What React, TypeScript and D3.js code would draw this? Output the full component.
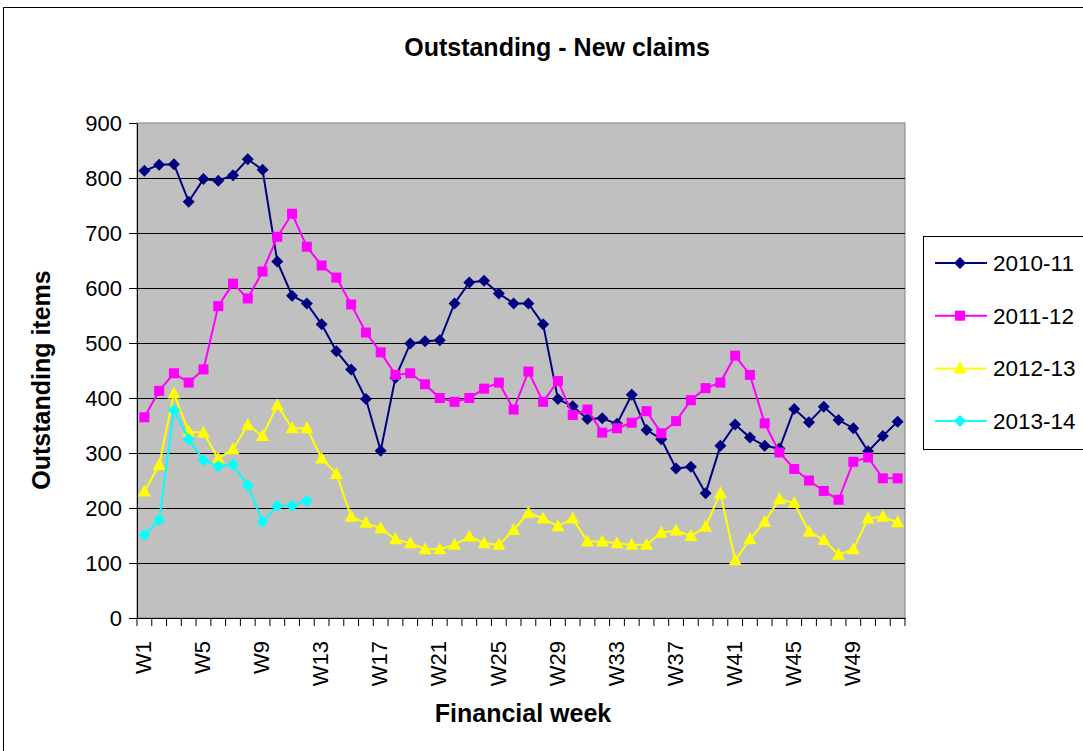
import React, { useEffect, useRef } from 'react';
import * as d3 from 'd3';

const weeks = d3.range(1, 53).map(i => `W${i}`);

const s2010 = [813, 824, 825, 757, 798, 795, 805, 834, 815, 648, 586, 572, 534, 485, 452, 398, 304, 437, 499, 503, 505, 572, 610, 613, 590, 572, 572, 534, 398, 385, 362, 363, 353, 406, 342, 325, 272, 275, 227, 313, 352, 328, 313, 308, 380, 356, 384, 360, 345, 303, 331, 357];
const s2011 = [365, 413, 445, 428, 452, 567, 608, 581, 630, 693, 735, 675, 641, 619, 570, 519, 483, 442, 445, 425, 400, 393, 400, 417, 428, 379, 448, 393, 431, 369, 379, 337, 345, 355, 376, 336, 358, 396, 418, 428, 477, 442, 354, 301, 271, 250, 231, 215, 284, 292, 254, 254];
const s2012 = [230, 278, 408, 339, 337, 290, 307, 351, 331, 387, 345, 345, 290, 262, 184, 173, 163, 143, 136, 125, 125, 133, 148, 136, 133, 160, 191, 181, 167, 181, 139, 139, 136, 133, 133, 155, 159, 149, 166, 227, 105, 143, 175, 216, 209, 157, 142, 115, 125, 181, 184, 174];
const s2013 = [151, 178, 378, 325, 287, 276, 279, 241, 175, 204, 204, 213];

const yTicks = [0, 100, 200, 300, 400, 500, 600, 700, 800, 900];

const series = [
  { name: '2010-11', values: s2010, color: '#000080', marker: 'diamond' },
  { name: '2011-12', values: s2011, color: '#FF00FF', marker: 'square' },
  { name: '2012-13', values: s2012, color: '#FFFF00', marker: 'triangle' },
  { name: '2013-14', values: s2013, color: '#00FFFF', marker: 'diamond' },
];

const FONT = '"Liberation Sans", Arial, sans-serif';

const drawMarker = (g, type, color) => {
  if (type === 'diamond') {
    g.append('path').attr('d', 'M0,-6L6,0L0,6L-6,0Z').attr('fill', color);
  } else if (type === 'square') {
    g.append('rect').attr('x', -5).attr('y', -5).attr('width', 10).attr('height', 10).attr('fill', color);
  } else {
    g.append('path').attr('d', 'M0,-7L6.5,5L-6.5,5Z').attr('fill', color);
  }
};

const App = () => {
  const ref = useRef(null);

  useEffect(() => {
    const width = 1083;
    const height = 751;
    const plot = { left: 137, right: 905, top: 123, bottom: 618 };

    const svg = d3.select(ref.current)
      .append('svg')
      .attr('width', width)
      .attr('height', height)
      .style('position', 'absolute')
      .style('left', 0)
      .style('top', 0)
      .style('font-family', FONT);

    svg.append('rect').attr('width', width).attr('height', height).attr('fill', '#fff');
    svg.append('rect')
      .attr('x', 3.5).attr('y', 7.5)
      .attr('width', 1100).attr('height', 800)
      .attr('fill', 'none').attr('stroke', '#000').attr('stroke-width', 1);

    const x = d3.scaleBand().domain(weeks).range([plot.left, plot.right]);
    const y = d3.scaleLinear().domain([0, 900]).range([plot.bottom, plot.top]);

    // plot area
    svg.append('rect')
      .attr('x', plot.left).attr('y', plot.top)
      .attr('width', plot.right - plot.left).attr('height', plot.bottom - plot.top)
      .attr('fill', '#C0C0C0').attr('stroke', '#808080').attr('stroke-width', 1);

    svg.append('g')
      .selectAll('line')
      .data(yTicks.filter(d => d > 0 && d < 900))
      .enter()
      .append('line')
      .attr('x1', plot.left).attr('x2', plot.right)
      .attr('y1', d => Math.round(y(d)) + 0.5).attr('y2', d => Math.round(y(d)) + 0.5)
      .attr('stroke', '#000').attr('stroke-width', 1);

    // y axis
    const yAxis = svg.append('g')
      .attr('transform', `translate(${plot.left},0)`)
      .call(d3.axisLeft(y).tickValues(yTicks).tickSize(8).tickSizeOuter(0));
    yAxis.select('.domain').attr('stroke', '#000');
    yAxis.selectAll('text').attr('font-size', 22).attr('font-family', FONT).attr('fill', '#000').attr('dx', -4);

    // x axis
    const xAxis = svg.append('g')
      .attr('transform', `translate(0,${plot.bottom})`)
      .call(d3.axisBottom(x).tickSize(0).tickSizeOuter(0).tickValues(weeks.filter((d, i) => i % 4 === 0)));
    xAxis.select('.domain').attr('stroke', '#000');
    xAxis.selectAll('text')
      .attr('font-size', 22).attr('font-family', FONT).attr('fill', '#000')
      .attr('text-anchor', 'end')
      .attr('transform', 'rotate(-90)')
      .attr('x', -23).attr('y', -1).attr('dy', '0.35em');
    svg.append('g')
      .selectAll('line')
      .data(d3.range(0, 53))
      .enter()
      .append('line')
      .attr('x1', i => plot.left + i * x.step()).attr('x2', i => plot.left + i * x.step())
      .attr('y1', plot.bottom).attr('y2', plot.bottom + 8)
      .attr('stroke', '#000');

    // series
    series.forEach(s => {
      const line = d3.line()
        .x((d, i) => x(weeks[i]) + x.bandwidth() / 2)
        .y(d => y(d));
      svg.append('path')
        .datum(s.values)
        .attr('d', line)
        .attr('fill', 'none')
        .attr('stroke', s.color)
        .attr('stroke-width', 2);
      s.values.forEach((v, i) => {
        const g = svg.append('g').attr('transform', `translate(${x(weeks[i]) + x.bandwidth() / 2},${y(v)})`);
        drawMarker(g, s.marker, s.color);
      });
    });

    // titles
    svg.append('text')
      .attr('x', 557).attr('y', 56)
      .attr('text-anchor', 'middle')
      .attr('font-size', 25).attr('font-weight', 'bold')
      .text('Outstanding - New claims');
    svg.append('text')
      .attr('x', 523).attr('y', 722)
      .attr('text-anchor', 'middle')
      .attr('font-size', 25).attr('font-weight', 'bold')
      .text('Financial week');
    svg.append('text')
      .attr('transform', `translate(50,380) rotate(-90)`)
      .attr('text-anchor', 'middle')
      .attr('font-size', 25).attr('font-weight', 'bold')
      .text('Outstanding items');

    // legend
    const legend = svg.append('g');
    legend.append('rect')
      .attr('x', 923.5).attr('y', 236.5)
      .attr('width', 200).attr('height', 213)
      .attr('fill', '#fff').attr('stroke', '#000');
    series.forEach((s, i) => {
      const ly = 263 + i * 52.7;
      legend.append('line')
        .attr('x1', 935).attr('x2', 987).attr('y1', ly).attr('y2', ly)
        .attr('stroke', s.color).attr('stroke-width', 2);
      drawMarker(legend.append('g').attr('transform', `translate(960,${ly})`), s.marker, s.color);
      legend.append('text')
        .attr('x', 993).attr('y', ly).attr('dy', '0.35em')
        .attr('font-size', 22.5)
        .text(s.name);
    });

    return () => {
      d3.select(ref.current).select('svg').remove();
    };
  }, []);

  return <div ref={ref} style={{ width: 1083, height: 751 }}></div>;
};

export default App;
